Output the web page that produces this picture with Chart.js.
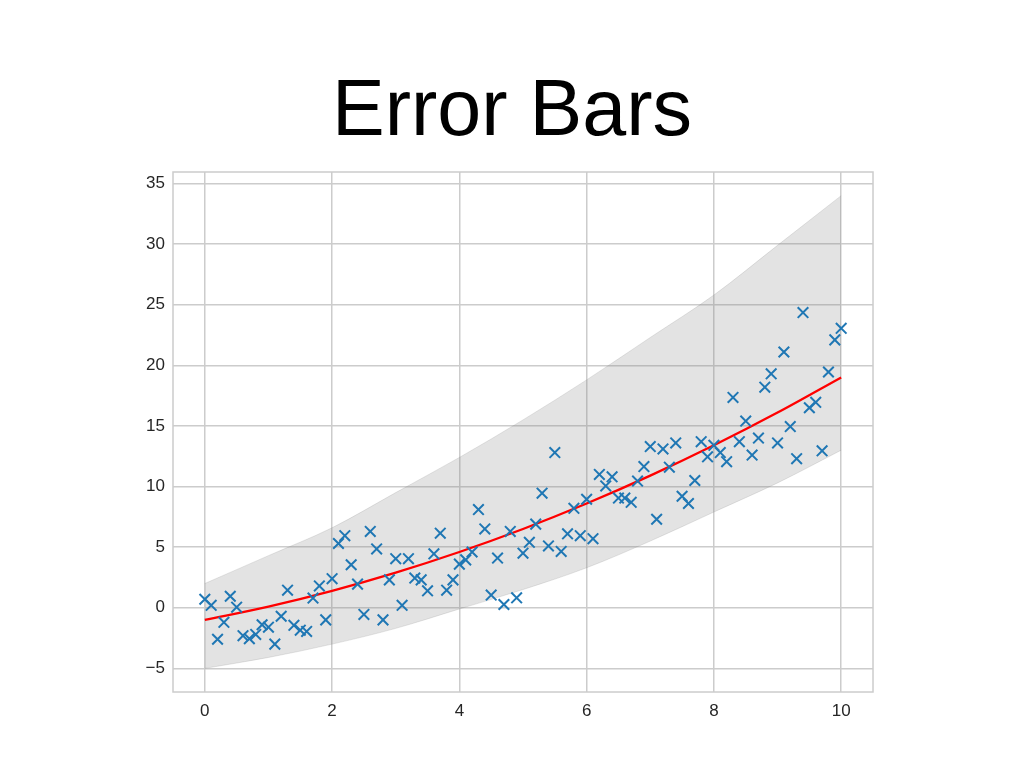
<!DOCTYPE html>
<html>
<head>
<meta charset="utf-8">
<script src="https://cdn.jsdelivr.net/npm/chart.js@4"></script>
<style>
  html, body { margin: 0; padding: 0; background: #fff; }
  canvas { display: block; }
</style>
</head>
<body>
<canvas id="chart" width="1024" height="768"></canvas>
<script>
const chartTitle = 'Error Bars';

// scattered measurements
const pointX = [
  0, 0.1, 0.2, 0.3, 0.4, 0.5, 0.6, 0.7, 0.8, 0.9,
  1, 1.1, 1.2, 1.3, 1.4, 1.5, 1.6, 1.7, 1.8, 1.9,
  2, 2.1, 2.2, 2.3, 2.4, 2.5, 2.6, 2.7, 2.8, 2.9,
  3, 3.1, 3.2, 3.3, 3.4, 3.5, 3.6, 3.7, 3.8, 3.9,
  4, 4.1, 4.2, 4.3, 4.4, 4.5, 4.6, 4.7, 4.8, 4.9,
  5, 5.1, 5.2, 5.3, 5.4, 5.5, 5.6, 5.7, 5.8, 5.9,
  6, 6.1, 6.2, 6.3, 6.4, 6.5, 6.6, 6.7, 6.8, 6.9,
  7, 7.1, 7.2, 7.3, 7.4, 7.5, 7.6, 7.7, 7.8, 7.9,
  8, 8.1, 8.2, 8.3, 8.4, 8.5, 8.6, 8.7, 8.8, 8.9,
  9, 9.1, 9.2, 9.3, 9.4, 9.5, 9.6, 9.7, 9.8, 9.9,
  10,
];
const pointY = [
  0.7, 0.2, -2.6, -1.2, 0.95, 0.05, -2.3, -2.55, -2.2, -1.4,
  -1.6, -3.0, -0.7, 1.45, -1.45, -1.85, -1.95, 0.8, 1.8, -1.0,
  2.4, 5.3, 5.95, 3.55, 1.95, -0.55, 6.3, 4.85, -1.0, 2.3,
  4.05, 0.2, 4.05, 2.45, 2.3, 1.4, 4.45, 6.15, 1.45, 2.3,
  3.6, 3.95, 4.6, 8.1, 6.5, 1.05, 4.1, 0.27, 6.3, 0.82,
  4.5, 5.4, 6.9, 9.45, 5.1, 12.8, 4.65, 6.1, 8.2, 5.95,
  8.95, 5.7, 11.0, 10.05, 10.8, 9.05, 9.05, 8.7, 10.45, 11.65,
  13.3, 7.3, 13.1, 11.6, 13.6, 9.2, 8.6, 10.5, 13.7, 12.45,
  13.4, 12.8, 12.05, 17.35, 13.7, 15.4, 12.6, 14.0, 18.2, 19.3,
  13.6, 21.1, 14.95, 12.3, 24.35, 16.5, 16.95, 12.95, 19.45, 22.1,
  23.05,
];

// fitted curve and its band
const curveX = [0, 1, 2, 3, 4, 5, 6, 7, 8, 9, 10];
const curveY = [-1.0, 0.1, 1.4, 2.9, 4.6, 6.5, 8.6, 10.9, 13.4, 16.1, 19.0];
const bandUpper = [2.0, 4.3, 6.6, 9.5, 12.4, 15.5, 18.8, 22.3, 25.8, 29.9, 34.0];
const bandLower = [-5.0, -4.1, -3.0, -1.7, -0.1, 1.5, 3.3, 5.5, 7.9, 10.3, 13.0];

const xTicks = [0, 2, 4, 6, 8, 10];
const yTicks = [-5, 0, 5, 10, 15, 20, 25, 30, 35];

const zip = (xs, ys) => xs.map((x, i) => ({ x, y: ys[i] }));
const tickFont = { family: '"Liberation Sans", Arial, sans-serif', size: 17 };
const gridColor = '#cccccc';

const frame = {
  id: 'frame',
  beforeDatasetsDraw(chart) {
    const { ctx, chartArea: a } = chart;
    ctx.save();
    ctx.strokeStyle = gridColor;
    ctx.lineWidth = 1.5;
    ctx.strokeRect(a.left, a.top, a.right - a.left, a.bottom - a.top);
    ctx.restore();
  },
};

new Chart(document.getElementById('chart'), {
  type: 'scatter',
  data: {
    datasets: [
      {
        label: 'lower',
        data: zip(curveX, bandLower),
        showLine: true,
        borderColor: 'rgba(128,128,128,0.2)',
        borderWidth: 1,
        pointRadius: 0,
        cubicInterpolationMode: 'monotone',
        fill: false,
        order: 3,
      },
      {
        label: 'upper',
        data: zip(curveX, bandUpper),
        showLine: true,
        borderColor: 'rgba(128,128,128,0.2)',
        borderWidth: 1,
        backgroundColor: 'rgba(128,128,128,0.22)',
        pointRadius: 0,
        cubicInterpolationMode: 'monotone',
        fill: '-1',
        order: 3,
      },
      {
        label: 'fit',
        data: zip(curveX, curveY),
        showLine: true,
        borderColor: '#ff0000',
        borderWidth: 2.3,
        pointRadius: 0,
        cubicInterpolationMode: 'monotone',
        order: 2,
      },
      {
        label: 'data',
        data: zip(pointX, pointY),
        pointStyle: 'crossRot',
        pointRadius: 7.5,
        pointBorderWidth: 2,
        borderColor: '#1f77b4',
        backgroundColor: '#1f77b4',
        order: 1,
      },
    ],
  },
  options: {
    responsive: false,
    animation: false,
    events: [],
    layout: { padding: 0 },
    plugins: {
      legend: { display: false },
      tooltip: { enabled: false },
      title: {
        display: true,
        text: chartTitle,
        color: '#000',
        font: { family: '"Liberation Sans", Arial, sans-serif', size: 79, weight: 'normal', lineHeight: 1.2 },
        padding: { top: 66, bottom: 11.2 },
      },
    },
    scales: {
      x: {
        type: 'linear',
        min: -0.5,
        max: 10.5,
        afterBuildTicks: (s) => { s.ticks = xTicks.map((v) => ({ value: v })); },
        afterFit: (s) => { s.height = 76; },
        grid: { color: gridColor, lineWidth: 1.5, drawTicks: false },
        border: { display: false },
        ticks: { padding: 9, color: '#262626', font: tickFont, callback: (v) => String(v) },
      },
      y: {
        type: 'linear',
        min: -6.95,
        max: 35.95,
        afterBuildTicks: (s) => { s.ticks = yTicks.map((v) => ({ value: v })); },
        afterFit: (s) => { s.width = 173; },
        grid: { color: gridColor, lineWidth: 1.5, drawTicks: false },
        border: { display: false },
        ticks: {
          padding: 8,
          color: '#262626',
          font: tickFont,
          callback: (v) => (v < 0 ? '\u2212' + Math.abs(v) : String(v)),
        },
      },
      // empty right-hand axis, only reserves the margin
      yRight: {
        type: 'linear',
        position: 'right',
        min: -6.95,
        max: 35.95,
        afterFit: (s) => { s.width = 151; },
        grid: { display: false, drawTicks: false },
        border: { display: false },
        ticks: { display: false },
      },
    },
  },
  plugins: [frame],
});
</script>
</body>
</html>
